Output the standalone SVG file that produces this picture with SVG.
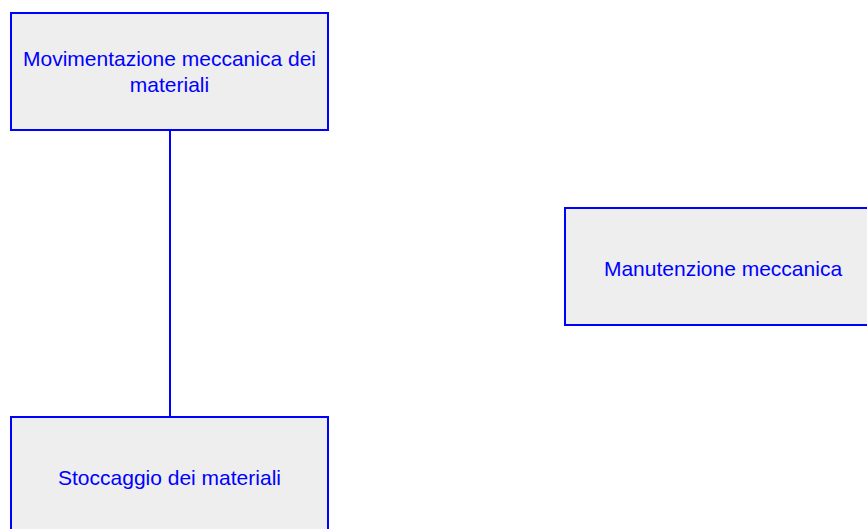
<svg xmlns="http://www.w3.org/2000/svg" width="867" height="529" viewBox="0 0 867 529">
<style>
.box{fill:#eeeeee;stroke:#0000ff;stroke-width:2}
.lbl{font-family:"Liberation Sans",Arial,sans-serif;font-size:21px;fill:#0000ff;text-anchor:middle}
.conn{stroke:#0000ff;stroke-width:2;fill:none}
</style>
<rect width="867" height="529" fill="#ffffff"/>
<g id="connectors">
<line class="conn" x1="170" y1="130" x2="170" y2="417"/>
</g>
<g id="node1">
<rect class="box" x="11" y="13" width="317" height="117"/>
<text class="lbl" x="169.5" y="66">Movimentazione meccanica dei</text>
<text class="lbl" x="169.5" y="92">materiali</text>
</g>
<g id="node2">
<rect class="box" x="565" y="208" width="317" height="117"/>
<text class="lbl" x="723" y="276">Manutenzione meccanica</text>
</g>
<g id="node3">
<rect class="box" x="11" y="417" width="317" height="117"/>
<text class="lbl" x="169.5" y="485">Stoccaggio dei materiali</text>
</g>
</svg>
